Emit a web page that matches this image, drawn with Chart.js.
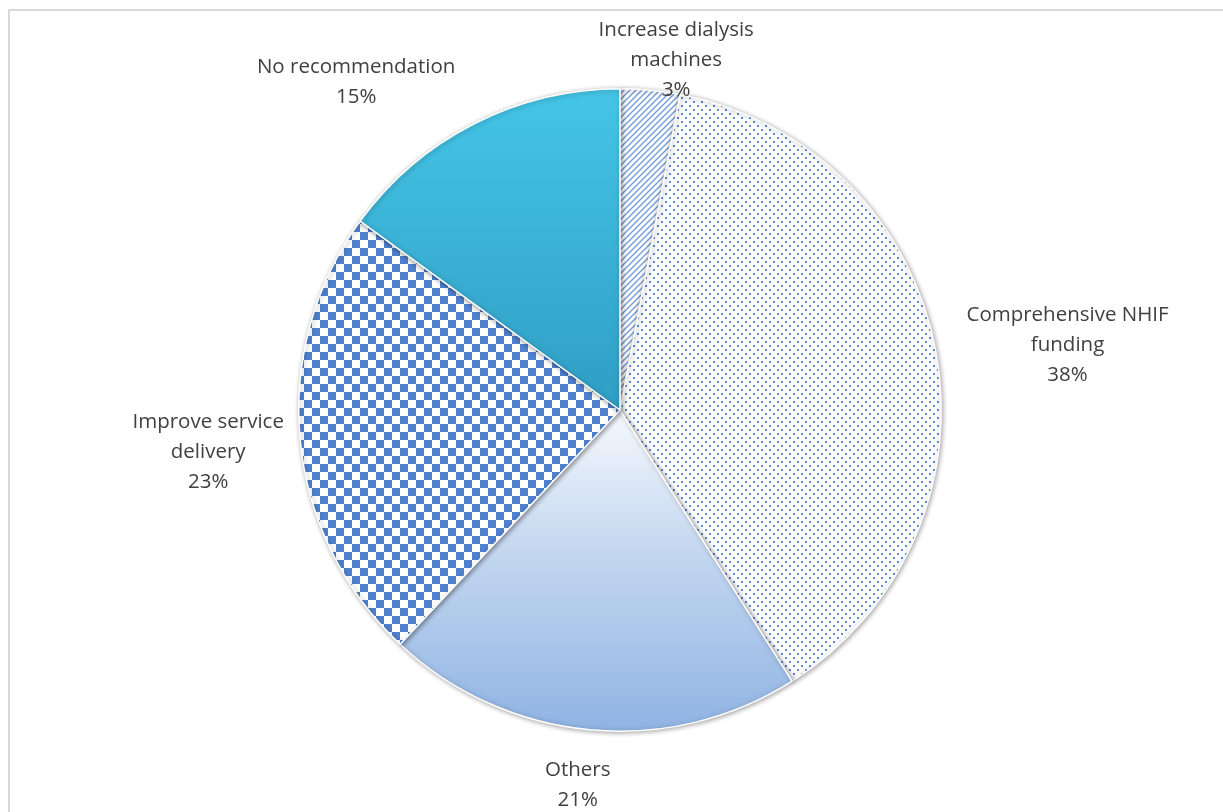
<!DOCTYPE html>
<html>
<head>
<meta charset="utf-8">
<script src="https://cdn.jsdelivr.net/npm/chart.js@4.4.0/dist/chart.umd.min.js"></script>
<style>
  html, body { margin: 0; padding: 0; background: #fff; overflow: hidden; }
  #frame { position: absolute; left: 8px; top: 9px; width: 1240px; height: 830px; border: 2px solid #d9d9d9; }
  #wrap { position: absolute; left: 0; top: 0; width: 1223px; height: 812px; }
</style>
</head>
<body>
<div id="frame"></div>
<div id="wrap"><canvas id="myChart"></canvas></div>
<script>
// 권고사항 응답 비율
const categories = [
  ['Increase dialysis', 'machines'],
  ['Comprehensive NHIF', 'funding'],
  ['Others'],
  ['Improve service', 'delivery'],
  ['No recommendation']
];
const percents = [3, 38, 21, 23, 15];

// 라벨 위치 보정 (조각 바깥 가장자리 기준)
const labelNudge = [[26, -30], [132, -5], [-12, 55], [-92, 12], [-118, -42]];

// 패턴 만들기
const makeTile = (size, draw) => {
  const c = document.createElement('canvas');
  c.width = size; c.height = size;
  const g = c.getContext('2d');
  g.fillStyle = '#ffffff';
  g.fillRect(0, 0, size, size);
  draw(g);
  return g.createPattern(c, 'repeat');
};

const stripes = makeTile(6, g => {
  g.strokeStyle = '#6f9ad8';
  g.lineWidth = 1.3;
  g.beginPath();
  g.moveTo(-1, 7); g.lineTo(7, -1);
  g.moveTo(-4, 4); g.lineTo(4, -4);
  g.moveTo(2, 10); g.lineTo(10, 2);
  g.stroke();
});

const dots = makeTile(8, g => {
  g.fillStyle = '#5a8bd6';
  g.fillRect(1, 1, 2, 2);
  g.fillRect(5, 5, 2, 2);
});

const checker = makeTile(16, g => {
  g.fillStyle = '#4f81cf';
  g.fillRect(0, 0, 8, 8);
  g.fillRect(8, 8, 8, 8);
});

const fills = (ctx) => {
  const chart = ctx.chart;
  const area = chart.chartArea;
  if (!area) return '#cccccc';
  const i = ctx.dataIndex;
  const cy = (area.top + area.bottom) / 2;
  const g = chart.ctx;
  if (i === 0) return stripes;
  if (i === 1) return dots;
  if (i === 3) return checker;
  if (i === 2) {
    const grad = g.createLinearGradient(0, cy, 0, area.bottom);
    grad.addColorStop(0, '#f6f9fd');
    grad.addColorStop(0.4, '#c8daf1');
    grad.addColorStop(1, '#8fb3e3');
    return grad;
  }
  const grad = g.createLinearGradient(0, area.top, 0, cy);
  grad.addColorStop(0, '#45c5e7');
  grad.addColorStop(1, '#2f9ec3');
  return grad;
};

// 그림자
const shadowPlugin = {
  id: 'pieShadow',
  beforeDatasetDraw(chart) {
    const c = chart.ctx;
    c.save();
    c.shadowColor = 'rgba(0,0,0,0.35)';
    c.shadowBlur = 5;
    c.shadowOffsetX = 1;
    c.shadowOffsetY = 1;
  },
  afterDatasetDraw(chart) {
    chart.ctx.restore();
  }
};

// 조각 라벨 그리기
const labelPlugin = {
  id: 'sliceLabels',
  afterDraw(chart) {
    const c = chart.ctx;
    const meta = chart.getDatasetMeta(0);
    c.save();
    c.font = '20.5px "Open Sans"';
    c.fillStyle = '#404040';
    c.textAlign = 'center';
    c.textBaseline = 'middle';
    const lineH = 30;
    meta.data.forEach((arc, i) => {
      const mid = (arc.startAngle + arc.endAngle) / 2;
      const ex = arc.x + arc.outerRadius * Math.cos(mid);
      const ey = arc.y + arc.outerRadius * Math.sin(mid);
      const lines = categories[i].concat([percents[i] + '%']);
      const x = ex + labelNudge[i][0];
      const y0 = ey + labelNudge[i][1] - (lines.length - 1) * lineH / 2;
      lines.forEach((t, k) => c.fillText(t, x, y0 + k * lineH));
    });
    c.restore();
  }
};

const ctx = document.getElementById('myChart');

new Chart(ctx, {
  type: 'pie',
  data: {
    labels: categories,
    datasets: [{
      data: percents,
      backgroundColor: fills,
      borderColor: '#ffffff',
      borderWidth: 1.5
    }]
  },
  options: {
    responsive: true,
    maintainAspectRatio: false,
    animation: false,
    layout: { padding: { top: 88, bottom: 80, left: 298, right: 281 } },
    plugins: {
      legend: { display: false },
      tooltip: { enabled: false }
    }
  },
  plugins: [shadowPlugin, labelPlugin]
});
</script>
</body>
</html>
